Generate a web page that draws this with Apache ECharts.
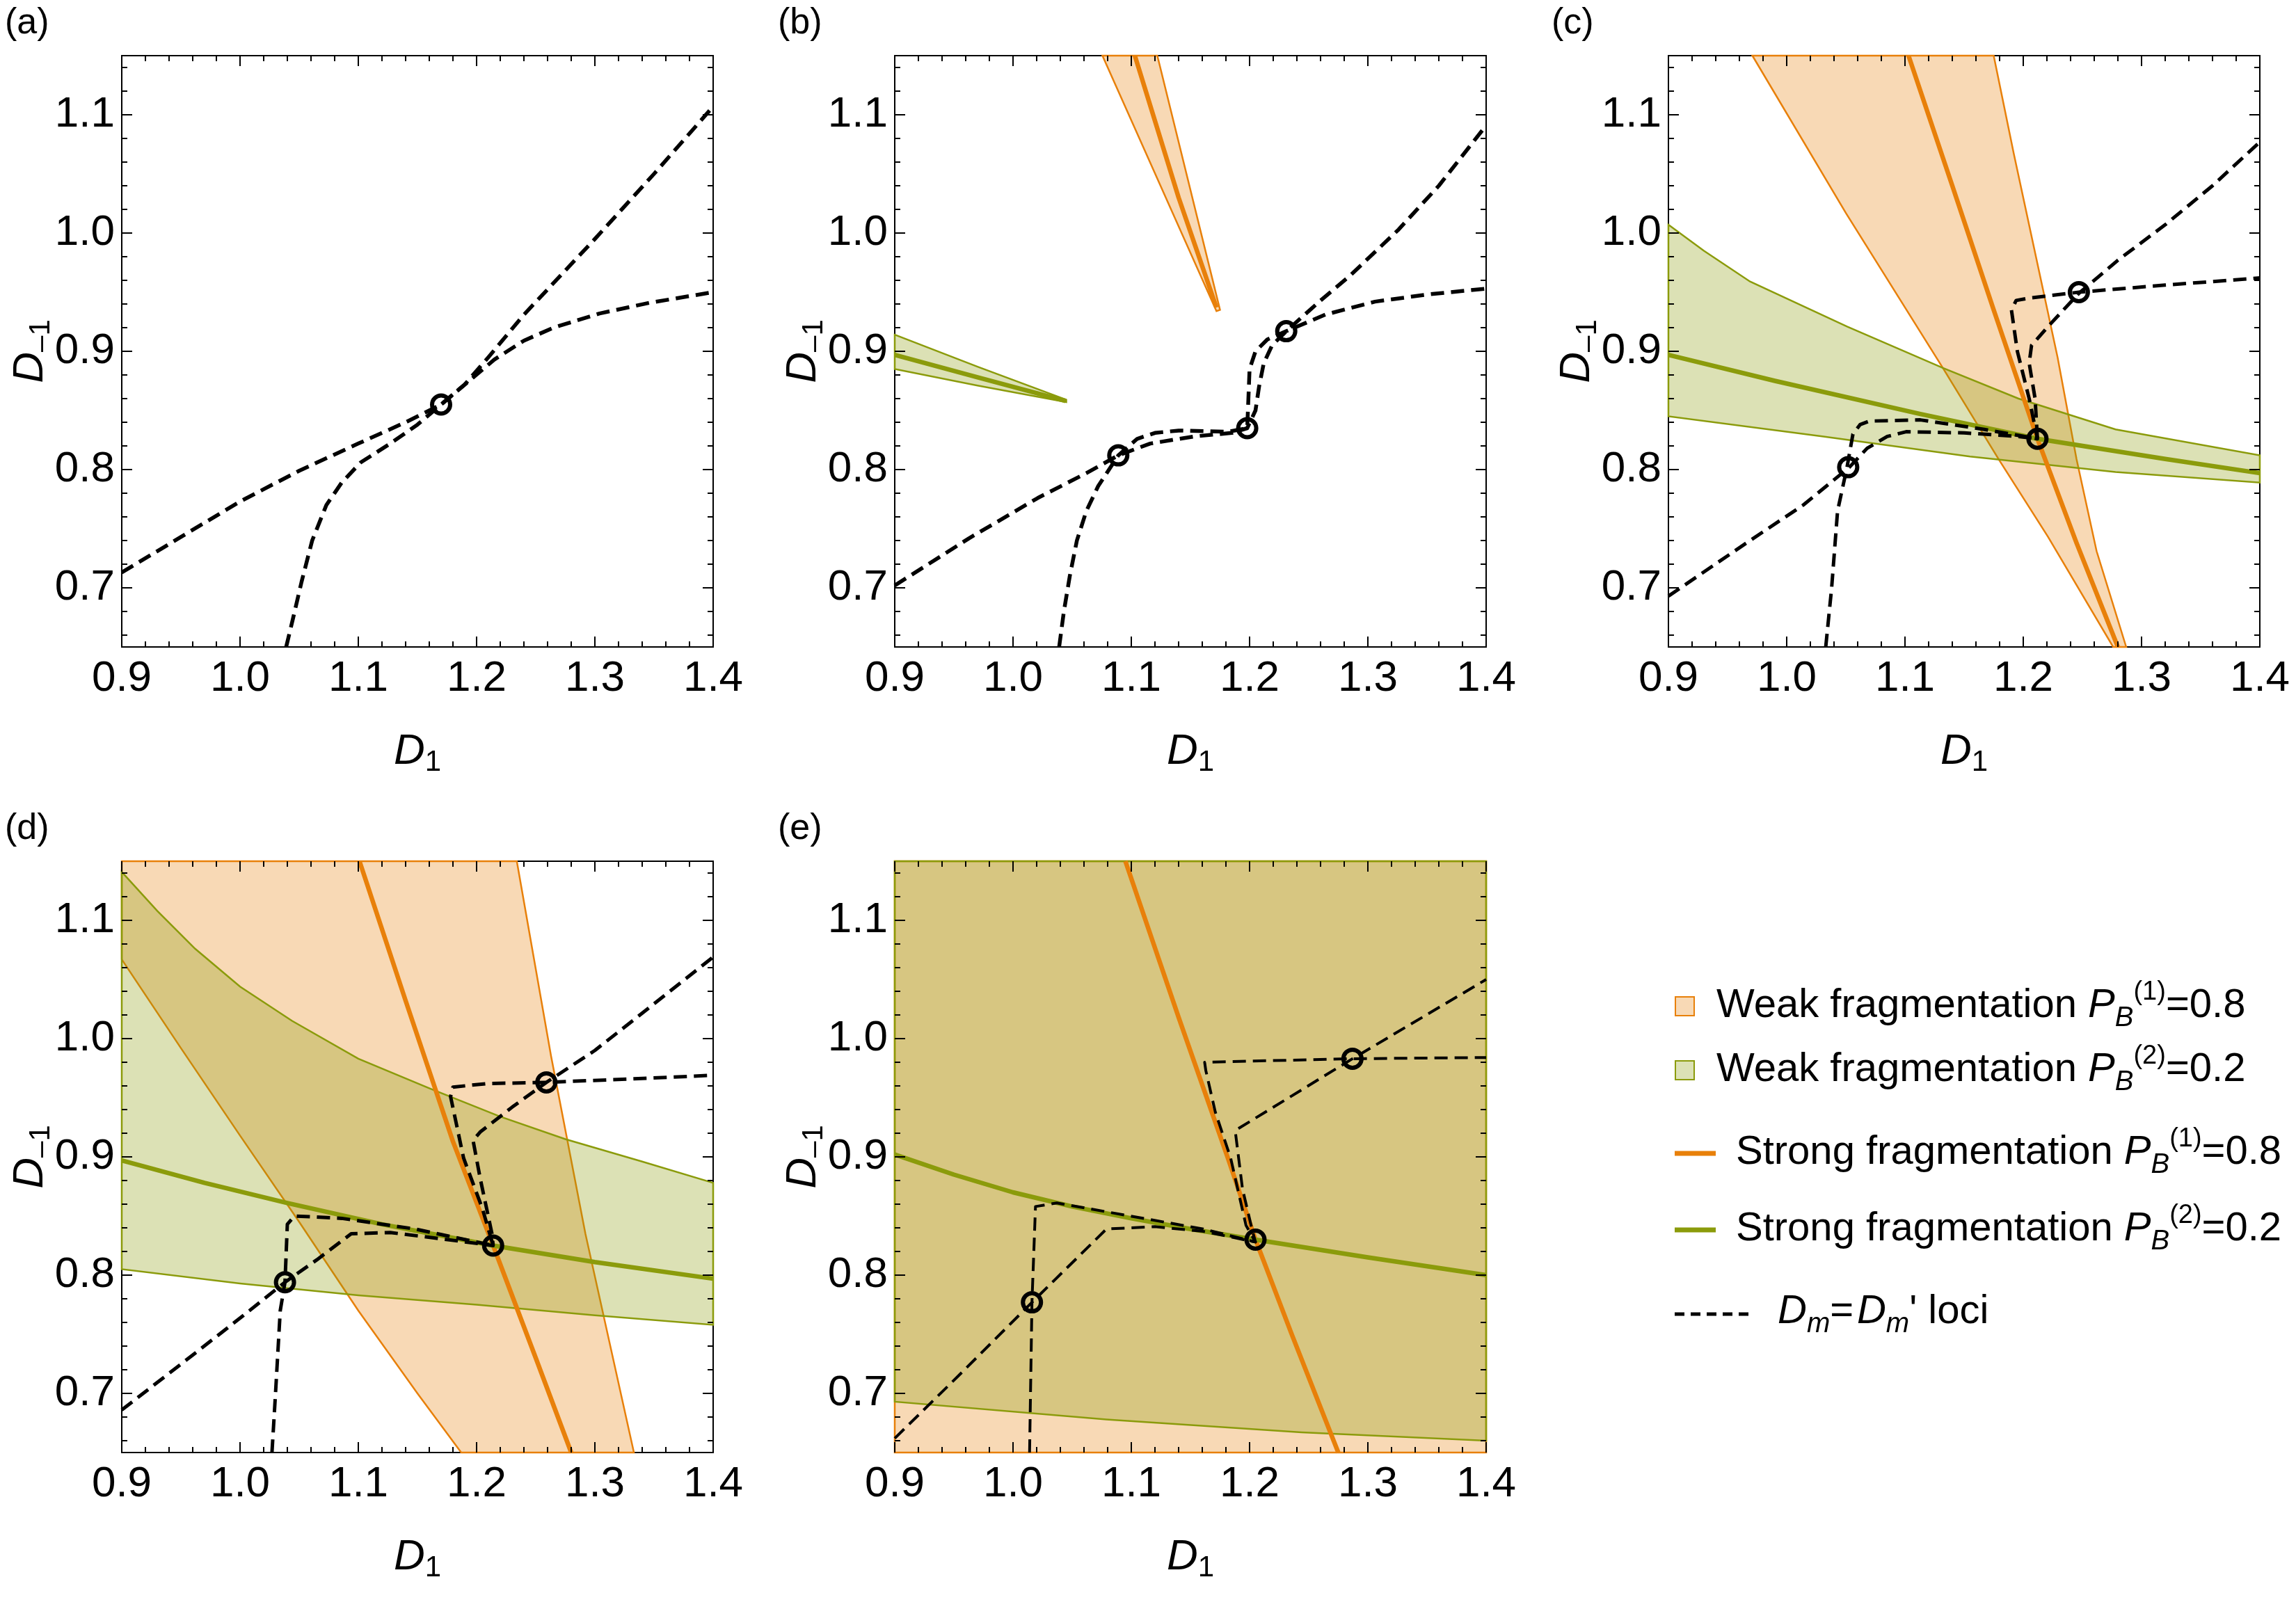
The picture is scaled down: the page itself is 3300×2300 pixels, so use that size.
<!DOCTYPE html>
<html>
<head>
<meta charset="utf-8">
<script src="https://cdn.jsdelivr.net/npm/echarts@6/dist/echarts.min.js"></script>
<style>
  html, body { margin: 0; padding: 0; background: #fff; }
  #chart { width: 3300px; height: 2300px; }
</style>
</head>
<body>
<div id="chart"></div>
<script>
// axis ticks (shared by every panel)
const xTickVals = [0.9, 1.0, 1.1, 1.2, 1.3, 1.4];
const yTickVals = [0.7, 0.8, 0.9, 1.0, 1.1];

// (a)
const aLocusDiag = [[0.9,0.713],[0.95,0.743],[1.0,0.773],[1.05,0.799],[1.1,0.822],[1.14,0.84],[1.17,0.855],[1.19,0.872],[1.21,0.895],[1.24,0.931],[1.27,0.963],[1.3,0.995],[1.35,1.05],[1.4,1.107]];
const aLocusStep = [[1.039,0.65],[1.045,0.675],[1.052,0.705],[1.061,0.74],[1.073,0.77],[1.086,0.789],[1.102,0.806],[1.127,0.822],[1.15,0.838],[1.17,0.855],[1.195,0.876],[1.215,0.893],[1.24,0.909],[1.265,0.92],[1.304,0.932],[1.346,0.941],[1.4,0.95]];
const aCircles = [[1.17,0.855]];

// (b)
const bWeakOrange = [[1.0756,1.15],[1.122,1.15],[1.175,0.935],[1.172,0.934]];
const bWeakOlive = [[0.9,0.914],[0.97,0.887],[1.045,0.859],[1.045,0.857],[0.97,0.871],[0.9,0.885]];
const bStrongOrange = [[1.103,1.15],[1.14,1.03],[1.172,0.937]];
const bStrongOlive = [[0.9,0.897],[0.97,0.878],[1.0446,0.858]];
const bLocusDiag = [[0.9,0.702],[0.963,0.742],[1.021,0.776],[1.062,0.797],[1.089,0.812],[1.116,0.822],[1.153,0.828],[1.185,0.831],[1.198,0.835],[1.205,0.85],[1.208,0.87],[1.212,0.89],[1.219,0.905],[1.231,0.917],[1.26,0.943],[1.285,0.964],[1.326,1.003],[1.36,1.04],[1.4,1.091]];
const bLocusStep = [[1.039,0.65],[1.043,0.68],[1.048,0.71],[1.054,0.74],[1.062,0.765],[1.072,0.786],[1.089,0.812],[1.105,0.826],[1.12,0.831],[1.14,0.833],[1.182,0.832],[1.198,0.835],[1.199,0.86],[1.2,0.885],[1.205,0.9],[1.215,0.91],[1.231,0.917],[1.264,0.931],[1.306,0.942],[1.35,0.948],[1.4,0.953]];
const bCircles = [[1.089,0.812],[1.198,0.835],[1.231,0.917]];

// (c)
const cWeakOrange = [[0.971,1.15],[1.05,1.017],[1.132,0.886],[1.179,0.809],[1.221,0.743],[1.276,0.65],[1.287,0.65],[1.262,0.731],[1.245,0.809],[1.229,0.895],[1.192,1.067],[1.175,1.15]];
const cWeakOlive = [[0.9,1.007],[0.93,0.985],[0.969,0.959],[1.051,0.921],[1.132,0.886],[1.196,0.86],[1.278,0.834],[1.4,0.812],[1.4,0.789],[1.278,0.798],[1.155,0.811],[1.031,0.828],[0.9,0.845]];
const cStrongOrange = [[1.103,1.15],[1.14,1.04],[1.175,0.935],[1.212,0.826],[1.245,0.738],[1.28,0.65]];
const cStrongOlive = [[0.9,0.897],[0.99,0.875],[1.113,0.847],[1.212,0.826],[1.32,0.809],[1.4,0.797]];
const cLocusDiag = [[0.9,0.693],[0.969,0.74],[1.014,0.77],[1.053,0.802],[1.068,0.818],[1.085,0.828],[1.101,0.832],[1.15,0.831],[1.196,0.828],[1.212,0.826],[1.21,0.86],[1.205,0.89],[1.207,0.905],[1.221,0.921],[1.247,0.949],[1.28,0.977],[1.32,1.007],[1.36,1.04],[1.4,1.077]];
const cLocusStep = [[1.033,0.65],[1.038,0.7],[1.043,0.765],[1.051,0.802],[1.056,0.83],[1.062,0.838],[1.07,0.841],[1.113,0.842],[1.167,0.834],[1.212,0.826],[1.205,0.86],[1.195,0.9],[1.19,0.935],[1.194,0.943],[1.205,0.945],[1.247,0.95],[1.32,0.956],[1.4,0.962]];
const cCircles = [[1.052,0.802],[1.212,0.826],[1.247,0.95]];

// (d)
const dWeakOrange = [[0.9,1.15],[1.234,1.15],[1.263,0.985],[1.292,0.835],[1.333,0.65],[1.187,0.65],[1.15,0.7],[1.1,0.77],[1.05,0.845],[1.0,0.918],[0.95,0.992],[0.9,1.067]];
const dWeakOlive = [[0.9,1.141],[0.93,1.108],[0.962,1.076],[1.0,1.044],[1.044,1.015],[1.1,0.983],[1.16,0.958],[1.22,0.934],[1.275,0.915],[1.34,0.896],[1.4,0.878],[1.4,0.758],[1.3,0.766],[1.2,0.775],[1.1,0.783],[1.0,0.793],[0.9,0.805]];
const dStrongOrange = [[1.101,1.15],[1.14,1.032],[1.18,0.913],[1.214,0.825],[1.25,0.73],[1.28,0.65]];
const dStrongOlive = [[0.9,0.897],[0.97,0.878],[1.04,0.861],[1.12,0.843],[1.214,0.825],[1.3,0.811],[1.4,0.797]];
const dLocusDiag = [[0.9,0.686],[0.962,0.734],[1.003,0.766],[1.038,0.794],[1.065,0.813],[1.094,0.835],[1.127,0.836],[1.168,0.831],[1.214,0.825],[1.213,0.835],[1.203,0.882],[1.197,0.914],[1.203,0.921],[1.23,0.942],[1.259,0.963],[1.3,0.99],[1.333,1.016],[1.4,1.069]];
const dLocusStep = [[1.027,0.65],[1.03,0.7],[1.034,0.77],[1.038,0.794],[1.04,0.843],[1.046,0.85],[1.086,0.848],[1.148,0.839],[1.214,0.825],[1.205,0.856],[1.189,0.899],[1.178,0.951],[1.18,0.959],[1.209,0.962],[1.259,0.963],[1.333,0.966],[1.4,0.969]];
const dCircles = [[1.038,0.794],[1.214,0.825],[1.259,0.963]];

// (e)
const eWeakOrange = [[0.9,0.65],[1.4,0.65],[1.4,1.15],[0.9,1.15]];
const eWeakOlive = [[0.9,1.15],[1.4,1.15],[1.4,0.66],[1.244,0.667],[1.079,0.678],[0.9,0.693]];
const eStrongOrange = [[1.095,1.15],[1.14,1.018],[1.182,0.898],[1.205,0.83],[1.236,0.749],[1.275,0.65]];
const eStrongOlive = [[0.9,0.902],[0.95,0.885],[1.0,0.87],[1.05,0.858],[1.1,0.848],[1.15,0.839],[1.205,0.83],[1.3,0.815],[1.4,0.8]];
const eLocusDiag = [[0.9,0.662],[0.955,0.716],[1.016,0.777],[1.079,0.839],[1.12,0.841],[1.161,0.837],[1.205,0.828],[1.202,0.839],[1.194,0.873],[1.188,0.921],[1.189,0.923],[1.287,0.983],[1.4,1.05]];
const eLocusStep = [[1.014,0.65],[1.016,0.777],[1.019,0.858],[1.037,0.861],[1.099,0.85],[1.161,0.839],[1.205,0.828],[1.197,0.842],[1.184,0.899],[1.171,0.938],[1.163,0.973],[1.162,0.98],[1.202,0.981],[1.287,0.983],[1.4,0.984]];
const eCircles = [[1.016,0.777],[1.205,0.83],[1.287,0.983]];

const FONT = '"Liberation Sans", Arial, sans-serif';
const ORANGE = '#e8800a';
const OLIVE = '#8b9b0b';
const ORANGE_FILL = 'rgba(232,128,10,0.3)';
const OLIVE_FILL = 'rgba(139,155,11,0.3)';
const SIZE = 850;

const panels = [
  { tag: '(a)', left: 175, top: 80, diag: aLocusDiag, step: aLocusStep, circles: aCircles, dashW: 5.5 },
  { tag: '(b)', left: 1286, top: 80, weakOrange: bWeakOrange, weakOlive: bWeakOlive, strongOrange: bStrongOrange, strongOlive: bStrongOlive, diag: bLocusDiag, step: bLocusStep, circles: bCircles, dashW: 5.5 },
  { tag: '(c)', left: 2398, top: 80, weakOrange: cWeakOrange, weakOlive: cWeakOlive, strongOrange: cStrongOrange, strongOlive: cStrongOlive, diag: cLocusDiag, step: cLocusStep, circles: cCircles, dashW: 5 },
  { tag: '(d)', left: 175, top: 1238, weakOrange: dWeakOrange, weakOlive: dWeakOlive, strongOrange: dStrongOrange, strongOlive: dStrongOlive, diag: dLocusDiag, step: dLocusStep, circles: dCircles, dashW: 5 },
  { tag: '(e)', left: 1286, top: 1238, weakOrange: eWeakOrange, weakOlive: eWeakOlive, strongOrange: eStrongOrange, strongOlive: eStrongOlive, diag: eLocusDiag, step: eLocusStep, circles: eCircles, dashW: 4 }
];

function minorTicks(lo, hi, step, majors) {
  const out = [];
  for (let k = Math.ceil(lo / step - 1e-9); k * step <= hi + 1e-9; k++) {
    const v = +(k * step).toFixed(2);
    if (!majors.some(m => Math.abs(m - v) < 1e-9)) out.push(v);
  }
  return out;
}
const xMinor = minorTicks(0.9, 1.4, 0.02, xTickVals);
const yMinor = minorTicks(0.65, 1.15, 0.02, yTickVals);

const nameRich = {
  d: { fontFamily: FONT, fontStyle: 'italic', fontSize: 62, lineHeight: 72, color: '#000' },
  s: { fontFamily: FONT, fontSize: 42, lineHeight: 40, verticalAlign: 'bottom', color: '#000' }
};

const grids = [], xAxes = [], yAxes = [], series = [], graphics = [];

panels.forEach((p, g) => {
  grids.push({ left: p.left, top: p.top, width: SIZE, height: SIZE, show: true,
    borderColor: '#000', borderWidth: 2, backgroundColor: 'rgba(0,0,0,0)', outerBoundsMode: 'none' });

  ['bottom', 'top'].forEach(side => ['major', 'minor'].forEach(kind => {
    const main = side === 'bottom' && kind === 'major';
    xAxes.push({
      gridIndex: g, type: 'value', min: 0.9, max: 1.4, position: side, z: 10,
      axisLine: { show: false, onZero: false }, splitLine: { show: false },
      axisTick: { show: true, inside: true, length: kind === 'major' ? 15 : 8,
        customValues: kind === 'major' ? xTickVals : xMinor, lineStyle: { color: '#000', width: 2 } },
      axisLabel: { show: main, customValues: xTickVals, formatter: v => v.toFixed(1),
        fontFamily: FONT, fontSize: 62, color: '#000', margin: 15 },
      name: main ? '{d|D}{s|1}' : '', nameLocation: 'middle', nameGap: 115, nameMoveOverlap: false,
      nameTextStyle: { verticalAlign: 'top', rich: nameRich }
    });
  }));
  ['left', 'right'].forEach(side => ['major', 'minor'].forEach(kind => {
    const main = side === 'left' && kind === 'major';
    yAxes.push({
      gridIndex: g, type: 'value', min: 0.65, max: 1.15, position: side, z: 10,
      axisLine: { show: false, onZero: false }, splitLine: { show: false },
      axisTick: { show: true, inside: true, length: kind === 'major' ? 15 : 8,
        customValues: kind === 'major' ? yTickVals : yMinor, lineStyle: { color: '#000', width: 2 } },
      axisLabel: { show: main, customValues: yTickVals, formatter: v => v.toFixed(1),
        fontFamily: FONT, fontSize: 62, color: '#000', margin: 10 },
      name: main ? '{d|D}{s|\u20131}' : '', nameLocation: 'middle', nameGap: 95, nameMoveOverlap: false,
      nameTextStyle: { verticalAlign: 'bottom', rich: nameRich }
    });
  }));

  const xi = 4 * g, yi = 4 * g;
  const poly = (pts, fill, stroke) => ({
    type: 'custom', xAxisIndex: xi, yAxisIndex: yi, z: 2, silent: true, animation: false,
    data: pts,
    renderItem: (params, api) => {
      if (params.dataIndex !== 0) return null;
      return { type: 'polygon', shape: { points: pts.map(q => api.coord(q)) },
        style: { fill: fill, stroke: stroke, lineWidth: 2.5 } };
    }
  });
  const line = (pts, color, width, dash, z) => ({
    type: 'line', xAxisIndex: xi, yAxisIndex: yi, data: pts, z: z, silent: true, animation: false,
    showSymbol: false, symbol: 'none',
    lineStyle: { color: color, width: width, type: dash || 'solid', cap: 'butt', join: 'round', opacity: 1 }
  });

  if (p.weakOrange) series.push(poly(p.weakOrange, ORANGE_FILL, ORANGE));
  if (p.weakOlive) series.push(poly(p.weakOlive, OLIVE_FILL, OLIVE));
  if (p.strongOrange) series.push(line(p.strongOrange, ORANGE, 6.5, null, 3));
  if (p.strongOlive) series.push(line(p.strongOlive, OLIVE, 6.5, null, 3));
  series.push(line(p.diag, '#000', p.dashW, [19, 10], 4));
  series.push(line(p.step, '#000', p.dashW, [19, 10], 4));
  series.push({ type: 'scatter', xAxisIndex: xi, yAxisIndex: yi, data: p.circles, z: 6, silent: true,
    animation: false, symbol: 'circle', symbolSize: 26,
    itemStyle: { color: 'rgba(0,0,0,0)', borderColor: '#000', borderWidth: 6, opacity: 1 } });

  graphics.push({ type: 'text', left: p.left - 168, top: p.top - 72,
    style: { text: p.tag, fontFamily: FONT, fontSize: 52, fill: '#000' } });
});

// legend
const legRich = {
  i: { fontFamily: FONT, fontStyle: 'italic', fontSize: 58, lineHeight: 76, fill: '#000' },
  b: { fontFamily: FONT, fontStyle: 'italic', fontSize: 40, lineHeight: 36, verticalAlign: 'bottom', fill: '#000' },
  p: { fontFamily: FONT, fontSize: 38, lineHeight: 34, verticalAlign: 'top', fill: '#000' },
  m: { fontFamily: FONT, fontStyle: 'italic', fontSize: 40, lineHeight: 34, verticalAlign: 'bottom', fill: '#000' }
};
const legText = (x, y, text) => ({ type: 'text', x: x, y: y,
  style: { text: text, fontFamily: FONT, fontSize: 58, lineHeight: 76, fill: '#000',
    verticalAlign: 'middle', rich: legRich } });

graphics.push(
  { type: 'rect', shape: { x: 2408, y: 1433, width: 27, height: 27 }, style: { fill: ORANGE_FILL, stroke: ORANGE, lineWidth: 2 } },
  legText(2467, 1446, 'Weak fragmentation {i|P}{b|B}{p|(1)}=0.8'),
  { type: 'rect', shape: { x: 2408, y: 1525, width: 27, height: 27 }, style: { fill: OLIVE_FILL, stroke: OLIVE, lineWidth: 2 } },
  legText(2467, 1538, 'Weak fragmentation {i|P}{b|B}{p|(2)}=0.2'),
  { type: 'line', shape: { x1: 2407, y1: 1658, x2: 2466, y2: 1658 }, style: { stroke: ORANGE, lineWidth: 7 } },
  legText(2495, 1657, 'Strong fragmentation {i|P}{b|B}{p|(1)}=0.8'),
  { type: 'line', shape: { x1: 2407, y1: 1768, x2: 2466, y2: 1768 }, style: { stroke: OLIVE, lineWidth: 7 } },
  legText(2495, 1767, 'Strong fragmentation {i|P}{b|B}{p|(2)}=0.2'),
  { type: 'line', shape: { x1: 2407, y1: 1889, x2: 2516, y2: 1889 }, style: { stroke: '#000', lineWidth: 5, lineDash: [14, 9] } },
  legText(2555, 1886, '{i|D}{m|m}=\u200a{i|D}{m|m}\' loci')
);

const chart = echarts.init(document.getElementById('chart'), null, { renderer: 'canvas', width: 3300, height: 2300 });
chart.setOption({
  animation: false,
  backgroundColor: '#fff',
  grid: grids,
  xAxis: xAxes,
  yAxis: yAxes,
  series: series,
  graphic: graphics
});
</script>
</body>
</html>
